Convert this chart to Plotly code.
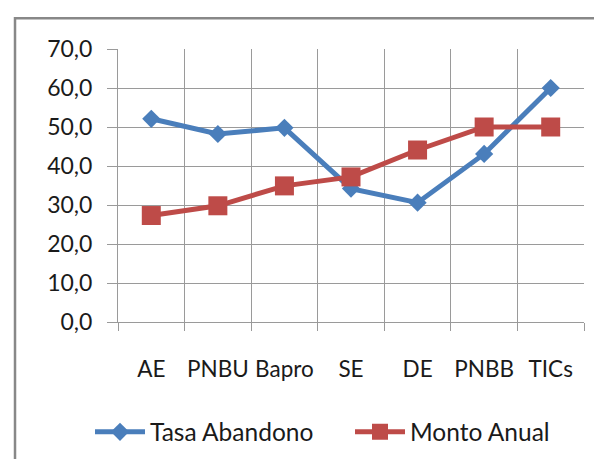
import plotly.graph_objects as go

categories = ["AE", "PNBU", "Bapro", "SE", "DE", "PNBB", "TICs"]
tasa_abandono = [52.1, 48.2, 49.8, 34.2, 30.6, 43.1, 60.0]
monto_anual = [27.3, 29.8, 34.9, 37.2, 44.1, 50.0, 50.0]
y_ticks = [0, 10, 20, 30, 40, 50, 60, 70]

BLUE = "#4A7EBB"
RED = "#BE4B48"
GRID = "#9a9a9a"
FONT = "Lato, 'Open Sans', sans-serif"

fig = go.Figure()
fig.add_trace(go.Scatter(
    x=categories, y=tasa_abandono, name="Tasa Abandono", mode="lines+markers",
    line=dict(color=BLUE, width=5),
    marker=dict(symbol="diamond", size=14, color=BLUE),
))
fig.add_trace(go.Scatter(
    x=categories, y=monto_anual, name="Monto Anual", mode="lines+markers",
    line=dict(color=RED, width=5),
    marker=dict(symbol="square", size=19, color=RED),
))

fig.update_layout(
    width=602, height=459,
    margin=dict(l=110, r=26, t=41, b=145),
    paper_bgcolor="white", plot_bgcolor="white",
    separators=",.",
    font=dict(family=FONT, size=23, color="#1a1a1a"),
    showlegend=True,
    legend=dict(orientation="h", x=-0.03, xanchor="left", y=-0.4025, yanchor="middle",
                font=dict(size=24.5), entrywidth=195, itemwidth=50, traceorder="normal"),
    xaxis=dict(
        type="category", tickson="boundaries", showgrid=True, gridcolor=GRID, gridwidth=1,
        ticks="outside", ticklen=8, tickcolor=GRID, ticklabelstandoff=27, tickangle=0,
        showline=True, linecolor=GRID, linewidth=1, mirror=False,
        tickfont=dict(size=22.5), range=[-0.5, 6.5],
    ),
    yaxis=dict(
        range=[0, 70], tickvals=y_ticks, tickformat=".1f", showgrid=True,
        gridcolor=GRID, gridwidth=1, ticks="outside", ticklen=10, tickcolor=GRID,
        showline=True, linecolor=GRID, linewidth=1, zeroline=False,
        tickfont=dict(size=23), ticklabelstandoff=10,
    ),
    shapes=[dict(type="rect", xref="paper", yref="paper",
                 x0=-0.221, x1=1.07, y0=-0.6, y1=1.113,
                 line=dict(color="#888888", width=2.5), fillcolor="rgba(0,0,0,0)", layer="below")],
)

fig.write_html("out.html")
